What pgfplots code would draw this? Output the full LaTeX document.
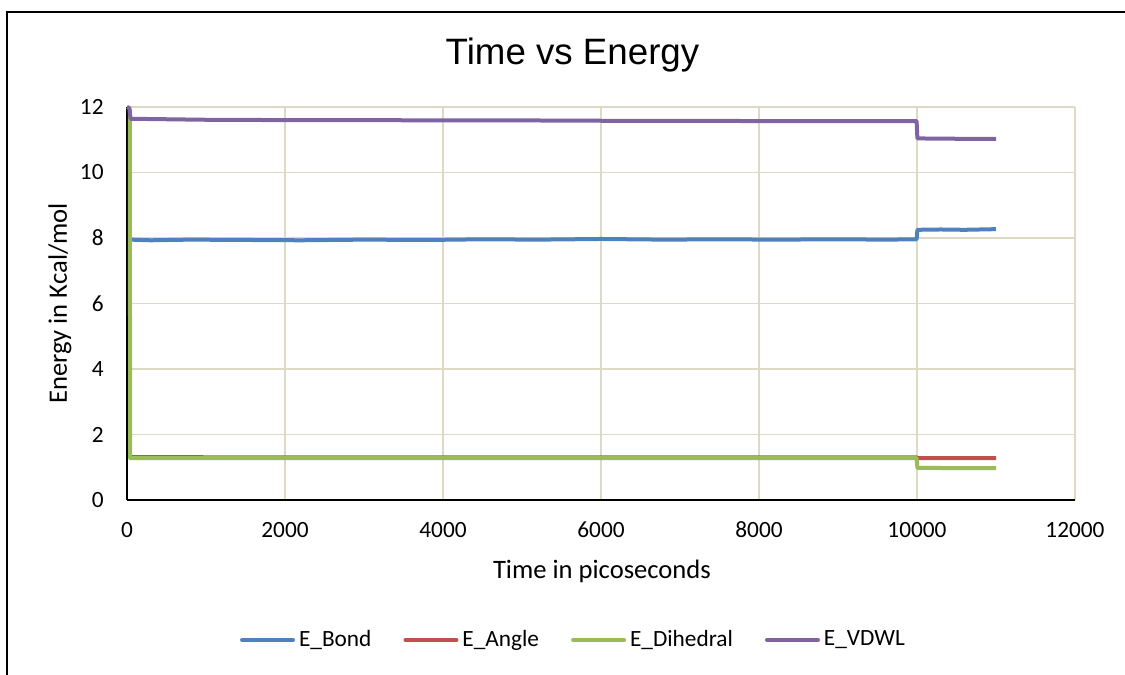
\documentclass[border=0pt]{standalone}
\usepackage{pgfplots}
\pgfplotsset{compat=1.18}
\usepackage{fontspec}
\setmainfont{Carlito}
\newfontfamily\titlefont{Liberation Sans}
\definecolor{cBond}{HTML}{4F81BD}
\definecolor{cAngle}{HTML}{C0504D}
\definecolor{cDih}{HTML}{9BBB59}
\definecolor{cVdw}{HTML}{8064A2}
\definecolor{gridc}{HTML}{DDD9C3}
\begin{document}
\begin{tikzpicture}
\useasboundingbox (0,0) rectangle (562.5pt,337.5pt);
\draw[line width=1pt, black] (3.5pt,-2pt) -- (3.5pt,331.5pt) -- (570pt,331.5pt);
\node[anchor=base, font=\titlefont\fontsize{18.35}{22}\selectfont] at (286.25pt,305pt) {Time vs Energy};
\begin{axis}[
  at={(63.5pt,87.5pt)}, anchor=south west,
  scale only axis, width=474pt, height=196.5pt,
  xmin=0, xmax=12000, ymin=0, ymax=12,
  xtick={0,2000,...,12000}, ytick={0,2,...,12},
  scaled ticks=false,
  axis x line*=bottom, axis y line*=left,
  axis line style={-, black, line width=0.9pt},
  grid=major, major grid style={color=gridc, line width=0.8pt},
  major tick length=0pt,
  /pgf/number format/assume math mode=true,
  /pgf/number format/set thousands separator={},
  tick label style={font=\fontsize{11.65}{14}\selectfont, inner sep=0pt},
  xticklabel style={anchor=base, yshift=-19pt},
  yticklabel style={anchor=east, xshift=-11.5pt},
  label style={font=\fontsize{13.3}{16}\selectfont},
  xlabel={Time in picoseconds},
  xlabel style={at={(axis description cs:0.501,-0.1807)}, anchor=center},
  ylabel={Energy in Kcal/mol},
  ylabel style={at={(axis description cs:-0.0707,0.5)}, anchor=center},
  clip=false,
  legend columns=4,
  legend style={at={(axis description cs:0.472,-0.356)}, anchor=center, draw=none,
    font=\fontsize{11.65}{14}\selectfont,
    /tikz/every even column/.append style={column sep=14pt}},
  legend image code/.code={\draw[#1, line width=2pt, line cap=round] (0pt,0pt) -- (25.5pt,0pt);},
  every axis plot/.append style={line width=2pt, line join=round},
]
\addplot[cBond] coordinates {
(40,7.95) (300,7.93) (800,7.95) (1500,7.94) (2200,7.93) (3000,7.95) (3800,7.94)
(4500,7.96) (5200,7.95) (6000,7.97) (6800,7.95) (7500,7.96) (8200,7.95) (9000,7.96)
(9600,7.95) (9995,7.96) (10005,8.25) (10300,8.26) (10600,8.25) (11000,8.27)};
\addlegendentry{E\_Bond}
\addplot[cAngle] coordinates {
(40,1.31) (2000,1.30) (5000,1.30) (8000,1.30) (9995,1.30) (10005,1.28) (11000,1.28)};
\addlegendentry{E\_Angle}
\addplot[cDih] coordinates {
(35,11.95) (40,1.28) (2000,1.28) (5000,1.28) (8000,1.28) (9995,1.28) (10005,0.98) (11000,0.97)};
\addlegendentry{E\_Dihedral}
\addplot[cVdw] coordinates {
(0,12.0) (30,11.97) (45,11.64) (1000,11.61) (2000,11.60) (3000,11.60) (4000,11.59)
(5000,11.59) (6000,11.58) (7000,11.58) (8000,11.57) (9000,11.57) (9995,11.57)
(10005,11.04) (10500,11.03) (11000,11.03)};
\addlegendentry{E\_VDWL}
\end{axis}
\end{tikzpicture}
\end{document}
